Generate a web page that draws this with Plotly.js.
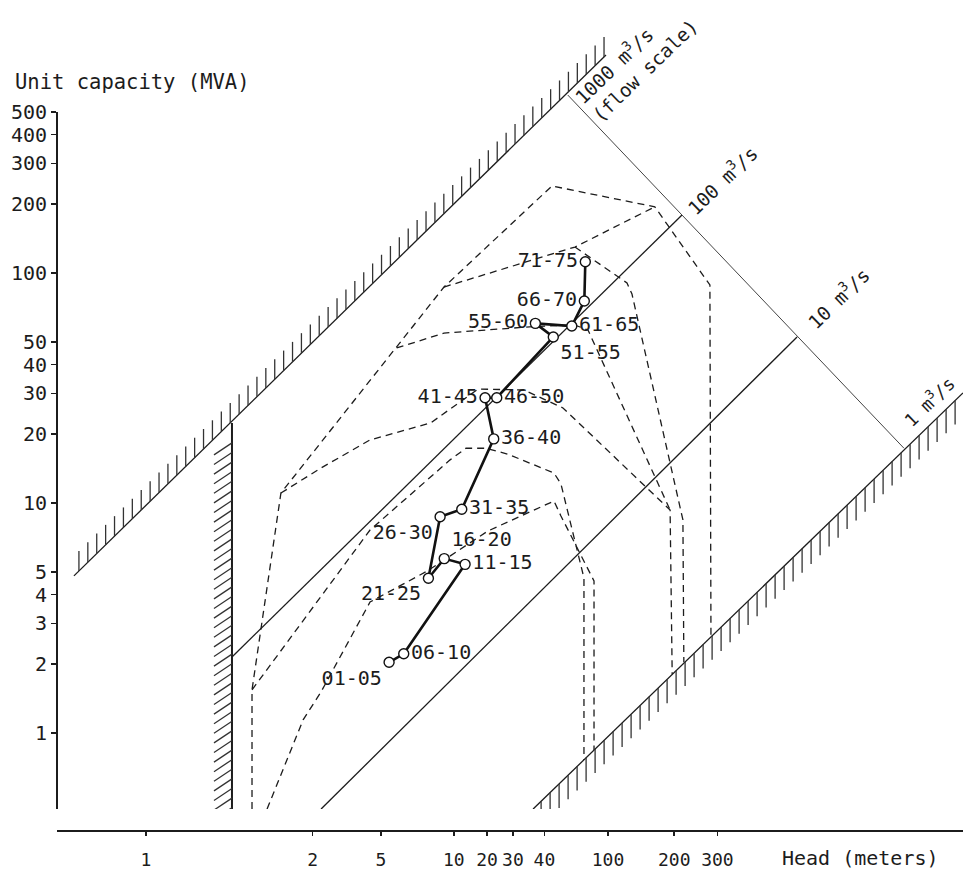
<!DOCTYPE html>
<html><head><meta charset="utf-8">
<script src="https://cdn.plot.ly/plotly-3.0.1.min.js"></script>
<style>html,body{margin:0;padding:0;background:#fff}#chart{width:963px;height:873px}</style>
</head><body><div id="chart"></div>
<script>
// ---------- DATA (head in meters, unit capacity in MVA) ----------
const periods        = ['01-05','06-10','11-15','16-20','21-25','26-30','31-35','36-40','41-45','46-50','51-55','55-60','61-65','66-70','71-75'];
const periodHead     = [11.4, 13.2, 24.4, 19.8, 16.9, 19.0, 23.6, 32.5, 29.8, 33.5, 59.0, 49.3, 71.0, 80.5, 81.3];
const periodMVA      = [2.03, 2.21, 5.41, 5.73, 4.71, 8.72, 9.39, 19.0, 28.7, 28.7, 52.7, 60.4, 58.8, 75.5, 112];
const periodLabelPos = ['bottom left','middle right','middle right','top right','bottom left','bottom left','middle right',
                        'middle right','middle left','middle right','bottom right','middle left','middle right','middle left','middle left'];

// constant-flow lines (end points)
const flow1000Head = [0.486, 100],  flow1000MVA = [4.82, 887];
const flow100Head  = [2.365, 214],  flow100MVA  = [2.14, 178.7];
const flow10Head   = [5.77, 677],   flow10MVA   = [0.467, 52.7];
const flow1Head    = [48.2, 3566],  flow1MVA    = [0.467, 30.1];
// flow scale line
const scaleHead = [68.2, 1975], scaleMVA = [594, 17.3];
// minimum-head limit (hatched vertical)
const minHead = [2.365, 2.365], minHeadMVA = [22.3, 0.467];

// dashed envelopes
const envAHead = [2.89, 2.89, 3.86, 19.75, 58.2, 163, 283, 286];
const envAMVA  = [0.467, 1.54, 11.05, 86.9, 239, 194, 88.7, 2.64];
const envBHead = [19.75, 73.3, 163];
const envBMVA  = [86.9, 129.7, 194];
const envCHead = [73.3, 123.4, 129.7, 216, 218];
const envCMVA  = [129.7, 90.5, 81.0, 8.44, 2.03];
const envDHead = [3.86, 5.77, 9.42, 17.3, 27.8, 44.0, 65.0, 190, 194];
const envDMVA  = [11.05, 14.2, 18.8, 22.3, 31.3, 31.0, 25.9, 9.32, 1.80];
const envEHead = [12.3, 19.75, 48.6, 73.3, 83.5, 190];
const envEMVA  = [47.2, 54.8, 58.5, 59.4, 56.5, 9.32];
const envFHead = [2.89, 9.42, 21.0, 24.6, 30.1, 37.5, 59.4, 63.7, 80.2, 80.2];
const envFMVA  = [1.54, 7.63, 15.4, 17.3, 17.3, 16.3, 13.5, 12.1, 4.72, 0.763];
const envGHead = [3.36, 4.82, 5.77, 9.42, 16.7, 30.7, 59.4, 63.7, 88.7, 88.7];
const envGMVA  = [0.467, 1.14, 1.51, 3.71, 5.06, 7.56, 10.2, 8.78, 4.58, 0.844];

// axis ticks
const mvaTicks     = [1,2,3,4,5,10,20,30,40,50,100,200,300,400,500];
const mvaTickText  = ['1','2','3','4','5','10','20','30','40','50','100','200','300','400','500'];
const headTickPos  = [1, 5.3, 10.5, 21.8, 30.4, 39.4, 54, 102, 198, 305];
const headTickText = ['1','2','5','10','20','30','40','100','200','300'];

// ---------- DRAWING ----------
const FONT = 'DejaVu Sans Mono, monospace';
const INK = '#1c1c1c';
const DEC = 230; // pixels per decade (both axes)

function hatchAlong(hs, ps, offPx, stepPx, lenPx, dir) {
  const lx0 = Math.log10(hs[0]), ly0 = Math.log10(ps[0]);
  const lx1 = Math.log10(hs[1]), ly1 = Math.log10(ps[1]);
  const k = (ly1 - ly0) / (lx1 - lx0);
  const X = [], Y = [];
  for (let lx = lx0 + offPx / DEC; lx <= lx1 + 1e-9; lx += stepPx / DEC) {
    const ly = ly0 + k * (lx - lx0);
    X.push(10 ** lx, 10 ** lx, null);
    Y.push(10 ** ly, 10 ** (ly + dir * lenPx / DEC), null);
  }
  return {X, Y};
}
function hatchVertical(hs, ps, topOffPx, stepPx, dxPx, dyPx) {
  const lx = Math.log10(hs[0]);
  const lyTop = Math.log10(ps[0]), lyBot = Math.log10(ps[1]);
  const X = [], Y = [];
  for (let ly = lyTop - topOffPx / DEC; ly >= lyBot - 0.05; ly -= stepPx / DEC) {
    X.push(10 ** (lx - dxPx / DEC), 10 ** lx, null);
    Y.push(10 ** (ly - dyPx / DEC), 10 ** ly, null);
  }
  return {X, Y};
}

const traces = [];
const dashStyle = {color: INK, width: 1.3, dash: '7px,5px'};
[[envAHead, envAMVA],[envBHead, envBMVA],[envCHead, envCMVA],[envDHead, envDMVA],
 [envEHead, envEMVA],[envFHead, envFMVA],[envGHead, envGMVA]].forEach(([h, p]) => {
  traces.push({x: h, y: p, mode: 'lines', line: dashStyle, hoverinfo: 'skip'});
});

const solid = {color: INK, width: 1.3};
[[flow1000Head, flow1000MVA],[flow100Head, flow100MVA],[flow10Head, flow10MVA],[flow1Head, flow1MVA]].forEach(([h, p]) => {
  traces.push({x: h, y: p, mode: 'lines', line: solid, hoverinfo: 'skip'});
});
traces.push({x: scaleHead, y: scaleMVA, mode: 'lines', line: {color: '#444', width: 1}, hoverinfo: 'skip'});
traces.push({x: minHead, y: minHeadMVA, mode: 'lines', line: {color: INK, width: 2}, hoverinfo: 'skip'});

const hUp = hatchAlong(flow1000Head, flow1000MVA, 5, 8.9, 20, +1);
const hDn = hatchAlong(flow1Head, flow1MVA, 8, 9, 24, -1);
const hV  = hatchVertical(minHead, minHeadMVA, 20, 9.6, 18, 12);
[hUp, hDn, hV].forEach(hh => traces.push({x: hh.X, y: hh.Y, mode: 'lines', line: {color: '#333', width: 1.3}, hoverinfo: 'skip'}));

traces.push({
  x: periodHead, y: periodMVA, mode: 'lines+markers+text', text: periods, textposition: periodLabelPos,
  textfont: {family: FONT, size: 20, color: INK},
  line: {color: '#111', width: 2.6},
  marker: {symbol: 'circle', size: 10, color: '#fff', line: {color: '#111', width: 1.4}},
  cliponaxis: false, hoverinfo: 'skip'
});
// carrier for the displayed capacity axis
traces.push({x: [1], y: [1], xaxis: 'x', yaxis: 'y2', mode: 'markers', marker: {opacity: 0}, hoverinfo: 'skip'});

const W = 963, H = 873;
const layout = {
  width: W, height: H, margin: {l: 0, r: 0, t: 0, b: 0},
  paper_bgcolor: '#fff', plot_bgcolor: 'rgba(0,0,0,0)', showlegend: false,
  xaxis: {
    type: 'log', domain: [57 / W, 1], range: [(57 - 146) / DEC, (963 - 146) / DEC],
    anchor: 'free', position: 42 / H,
    showline: true, linecolor: INK, linewidth: 2, ticks: 'outside', ticklen: 4, tickwidth: 1.5, tickcolor: INK,
    tickvals: headTickPos, ticktext: headTickText, tickfont: {family: FONT, size: 18, color: INK},
    ticklabelstandoff: 8, showgrid: false, zeroline: false
  },
  yaxis: {type: 'log', domain: [64 / H, 1], range: [(733 - 809) / DEC, 733 / DEC], visible: false},
  yaxis2: {
    type: 'log', domain: [64 / H, 761 / H], range: [(733 - 809) / DEC, (733 - 112) / DEC],
    anchor: 'free', position: 57 / W,
    showline: true, linecolor: INK, linewidth: 2.2, ticks: 'outside', ticklen: 5, tickwidth: 1.5, tickcolor: INK,
    tickvals: mvaTicks, ticktext: mvaTickText, tickfont: {family: FONT, size: 20, color: INK},
    showgrid: false, zeroline: false
  },
  annotations: [
    {text: 'Unit capacity (MVA)', xref: 'paper', yref: 'paper', x: 13 / W, y: 1 - 82 / H, xanchor: 'left', yanchor: 'middle',
     showarrow: false, font: {family: FONT, size: 20.5, color: INK}},
    {text: 'Head (meters)', xref: 'paper', yref: 'paper', x: 860 / W, y: 1 - 858 / H, xanchor: 'center', yanchor: 'middle',
     showarrow: false, font: {family: FONT, size: 20, color: INK}},
    {text: '1000 m<sup>3</sup>/s<br>(flow scale)', xref: 'x', yref: 'y', x: (635 - 146) / DEC, y: (733 - 61) / DEC,
     textangle: -44, align: 'left', showarrow: false, font: {family: FONT, size: 19, color: INK}},
    {text: '100 m<sup>3</sup>/s', xref: 'x', yref: 'y', x: (722 - 146) / DEC, y: (733 - 180) / DEC,
     textangle: -44, showarrow: false, font: {family: FONT, size: 19, color: INK}},
    {text: '10 m<sup>3</sup>/s', xref: 'x', yref: 'y', x: (838 - 146) / DEC, y: (733 - 298) / DEC,
     textangle: -44, showarrow: false, font: {family: FONT, size: 19, color: INK}},
    {text: '1 m<sup>3</sup>/s', xref: 'x', yref: 'y', x: (929 - 146) / DEC, y: (733 - 401) / DEC,
     textangle: -44, showarrow: false, font: {family: FONT, size: 18, color: INK}}
  ]
};
Plotly.newPlot('chart', traces, layout, {staticPlot: true, displayModeBar: false});
</script></body></html>
